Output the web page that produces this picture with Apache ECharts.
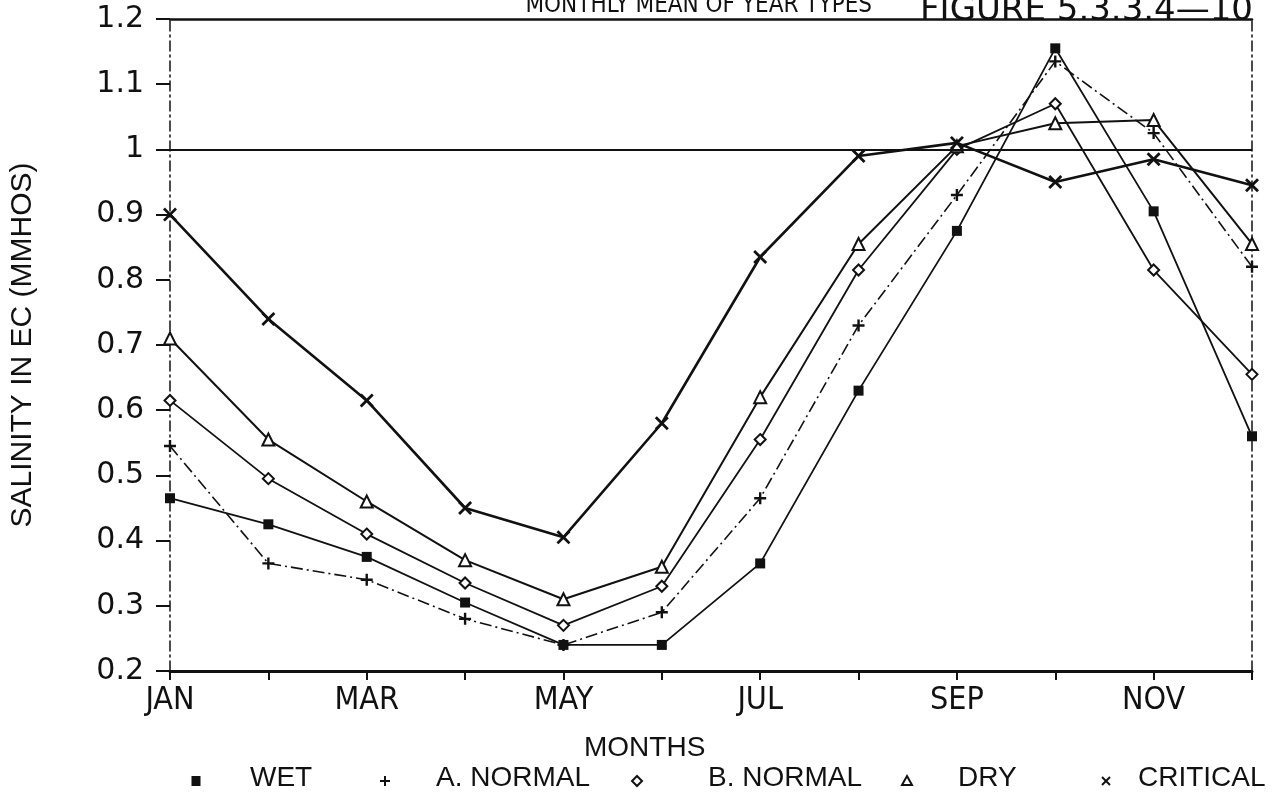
<!DOCTYPE html>
<html>
<head>
<meta charset="utf-8">
<title>Monthly Mean of Year Types</title>
<script src="https://cdn.jsdelivr.net/npm/echarts@6/dist/echarts.min.js"></script>
<style>
  html, body { margin: 0; padding: 0; background: #fff; }
  #chart { width: 1282px; height: 801px; }
</style>
</head>
<body>
<div id="chart"></div>
<script>
// Monthly mean salinity (EC, mmhos) by water-year type
const months = ['JAN', 'FEB', 'MAR', 'APR', 'MAY', 'JUN', 'JUL', 'AUG', 'SEP', 'OCT', 'NOV', 'DEC'];
const wet      = [0.465, 0.425, 0.375, 0.305, 0.240, 0.240, 0.365, 0.630, 0.875, 1.155, 0.905, 0.560];
const aNormal  = [0.545, 0.365, 0.340, 0.280, 0.240, 0.290, 0.465, 0.730, 0.930, 1.135, 1.025, 0.820];
const bNormal  = [0.615, 0.495, 0.410, 0.335, 0.270, 0.330, 0.555, 0.815, 1.000, 1.070, 0.815, 0.655];
const dry      = [0.710, 0.555, 0.460, 0.370, 0.310, 0.360, 0.620, 0.855, 1.005, 1.040, 1.045, 0.855];
const critical = [0.900, 0.740, 0.615, 0.450, 0.405, 0.580, 0.835, 0.990, 1.010, 0.950, 0.985, 0.945];
const yTicks = { min: 0.2, max: 1.2, interval: 0.1 };
const limitLine = 1.0;

const INK = '#111';
const SANS = "'Liberation Sans', Arial, Helvetica, sans-serif";
const WIDE = "'DejaVu Sans', 'Liberation Sans', sans-serif";
const NARROW = "'Liberation Sans Narrow', 'DejaVu Sans Condensed', 'Liberation Sans', sans-serif";

// plus and cross markers as filled outlines
const PLUS = 'path://M4,0H6V4H10V6H6V10H4V6H0V4H4Z';
const CROSS = 'path://M1.4,0L5,3.6L8.6,0L10,1.4L6.4,5L10,8.6L8.6,10L5,6.4L1.4,10L0,8.6L3.6,5L0,1.4Z';

function lineSeries(name, data, symbol, size, hollow, lineType, width) {
  return {
    name: name,
    type: 'line',
    data: data,
    symbol: symbol,
    symbolSize: size,
    showAllSymbol: true,
    z: 3,
    lineStyle: { color: INK, width: width || 2, type: lineType || 'solid' },
    itemStyle: hollow
      ? { color: '#fff', borderColor: INK, borderWidth: 2 }
      : { color: INK, borderWidth: 0 }
  };
}

// legend: key glyph position (sx) and label position (tx)
const legendItems = [
  { label: 'WET',       key: 'square',   sx: 196,  tx: 250 },
  { label: 'A. NORMAL', key: 'plus',     sx: 385,  tx: 436 },
  { label: 'B. NORMAL', key: 'diamond',  sx: 637,  tx: 708 },
  { label: 'DRY',       key: 'triangle', sx: 907,  tx: 958 },
  { label: 'CRITICAL',  key: 'cross',    sx: 1106, tx: 1138 }
];
const KEY_Y = 781;

function legendKey(kind, cx, cy) {
  const stroke = { stroke: INK, lineWidth: 2, fill: 'none' };
  switch (kind) {
    case 'square':
      return { type: 'rect', shape: { x: cx - 4.5, y: cy - 5, width: 9, height: 10 }, style: { fill: INK } };
    case 'plus':
      return { type: 'group', children: [
        { type: 'line', shape: { x1: cx - 5, y1: cy, x2: cx + 5, y2: cy }, style: stroke },
        { type: 'line', shape: { x1: cx, y1: cy - 5, x2: cx, y2: cy + 5 }, style: stroke }
      ] };
    case 'diamond':
      return { type: 'polygon', shape: { points: [[cx, cy - 5], [cx + 5, cy], [cx, cy + 5], [cx - 5, cy]] },
               style: { stroke: INK, lineWidth: 2, fill: '#fff' } };
    case 'triangle':
      return { type: 'polygon', shape: { points: [[cx, cy - 5], [cx + 5, cy + 4], [cx - 5, cy + 4]] },
               style: { stroke: INK, lineWidth: 2, fill: '#fff' } };
    default:
      return { type: 'group', children: [
        { type: 'line', shape: { x1: cx - 4, y1: cy - 4, x2: cx + 4, y2: cy + 4 }, style: stroke },
        { type: 'line', shape: { x1: cx - 4, y1: cy + 4, x2: cx + 4, y2: cy - 4 }, style: stroke }
      ] };
  }
}

const legendGraphics = [];
legendItems.forEach(function (it) {
  legendGraphics.push(legendKey(it.key, it.sx, KEY_Y));
  legendGraphics.push({
    type: 'text',
    left: it.tx, top: 764,
    style: { text: it.label, font: '28px ' + SANS, fill: INK }
  });
});

const chart = echarts.init(document.getElementById('chart'), null, { renderer: 'canvas' });

chart.setOption({
  backgroundColor: '#fff',
  animation: false,
  grid: { left: 170, right: 30, top: 19, bottom: 130 },
  xAxis: [
    {
      type: 'category',
      data: months,
      boundaryGap: false,
      axisLine: { lineStyle: { color: INK, width: 3 } },
      axisTick: { show: true, interval: 0, length: 9, lineStyle: { color: INK, width: 2 } },
      axisLabel: { interval: 1, color: INK, margin: 14, fontSize: 32, fontFamily: NARROW },
      splitLine: { show: false }
    },
    {
      type: 'category',
      data: months,
      boundaryGap: false,
      position: 'top',
      axisLine: { lineStyle: { color: INK, width: 2.5 } },
      axisTick: { show: false },
      axisLabel: { show: false }
    }
  ],
  yAxis: [
    {
      type: 'value',
      min: yTicks.min,
      max: yTicks.max,
      interval: yTicks.interval,
      name: 'SALINITY IN EC (MMHOS)',
      nameLocation: 'middle',
      nameRotate: 90,
      nameGap: 132,
      nameTextStyle: { color: INK, fontSize: 30, fontFamily: SANS },
      axisLine: { show: true, lineStyle: { color: INK, width: 1.5, type: [10, 4, 2, 4] } },
      axisTick: { show: true, length: 14, lineStyle: { color: INK, width: 2 } },
      axisLabel: {
        color: INK, margin: 26, fontSize: 30, fontFamily: WIDE,
        formatter: function (v) { return String(Math.round(v * 10) / 10); }
      },
      splitLine: { show: false }
    },
    {
      type: 'value',
      min: yTicks.min,
      max: yTicks.max,
      interval: yTicks.interval,
      position: 'right',
      axisLine: { show: true, lineStyle: { color: INK, width: 1.5, type: [10, 4, 2, 4] } },
      axisTick: { show: false },
      axisLabel: { show: false },
      splitLine: { show: false }
    }
  ],
  series: [
    lineSeries('WET', wet, 'rect', 10, false, 'solid', 1.8),
    lineSeries('A. NORMAL', aNormal, PLUS, 12, false, [12, 4, 2, 4], 1.6),
    lineSeries('B. NORMAL', bNormal, 'diamond', 11, true, 'solid', 1.8),
    lineSeries('DRY', dry, 'triangle', 12, true, 'solid', 2),
    Object.assign(lineSeries('CRITICAL', critical, CROSS, 14, false, 'solid', 2.6), {
      markLine: {
        silent: true,
        symbol: 'none',
        label: { show: false },
        lineStyle: { color: INK, width: 2, type: 'solid' },
        data: [{ yAxis: limitLine }]
      }
    })
  ],
  graphic: [
    {
      type: 'text',
      right: 410, top: -6,
      style: { text: 'MONTHLY MEAN OF YEAR TYPES', font: '24px ' + NARROW, fill: INK }
    },
    {
      type: 'text',
      right: 29, top: -6,
      style: { text: 'FIGURE 5.3.3.4\u201410', font: '34px ' + WIDE, fill: INK }
    },
    {
      type: 'text',
      left: 584, top: 734,
      style: { text: 'MONTHS', font: '28px ' + SANS, fill: INK }
    }
  ].concat(legendGraphics)
});
</script>
</body>
</html>
